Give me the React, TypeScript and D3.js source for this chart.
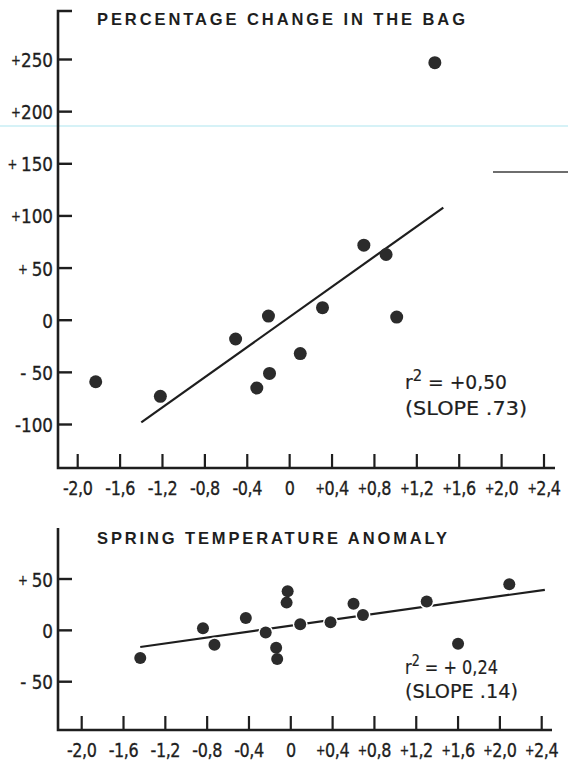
import React from "react";
import * as d3 from "d3";

// ---------- DATA ----------
const xTickValues = [-2.0, -1.6, -1.2, -0.8, -0.4, 0, 0.4, 0.8, 1.2, 1.6, 2.0, 2.4];
const xTickSigns = ["-", "-", "-", "-", "-", "", "+", "+", "+", "+", "+", "+"];
const xTickNums = ["2,0", "1,6", "1,2", "0,8", "0,4", "0", "0,4", "0,8", "1,2", "1,6", "2,0", "2,4"];

const topYTickValues = [250, 200, 150, 100, 50, 0, -50, -100];
const topYTickSigns = ["+", "+", "+ ", "+", "+ ", "", "- ", "-"];
const topYTickNums = ["250", "200", "150", "100", "50", "0", "50", "100"];

const bottomYTickValues = [50, 0, -50];
const bottomYTickSigns = ["+ ", "", "- "];
const bottomYTickNums = ["50", "0", "50"];

// Top panel: percentage change in the bag vs anomaly
const topX = [-1.83, -1.22, -0.51, -0.2, -0.31, -0.19, 0.1, 0.31, 0.7, 0.91, 1.01, 1.37];
const topY = [-59, -73, -18, 4, -65, -51, -32, 12, 72, 63, 3, 247];
const topFitRange = [-1.4, 1.45];
const topSlope = 72.3;
const topIntercept = 3.2;

// Bottom panel: spring temperature anomaly
const bottomX = [-1.44, -0.84, -0.73, -0.43, -0.24, -0.14, -0.13, -0.03, -0.04, 0.09, 0.38, 0.6, 0.69, 1.3, 1.6, 2.09];
const bottomY = [-27, 2, -14, 12, -2, -17, -28, 38, 27, 6, 8, 26, 15, 28, -13, 45];
const bottomFitRange = [-1.44, 2.43];
const bottomSlope = 14.4;
const bottomIntercept = 4.5;

const topTitle = "PERCENTAGE CHANGE IN THE BAG";
const bottomTitle = "SPRING TEMPERATURE ANOMALY";
const topStats = ["+0,50", "(SLOPE .73)"];
const bottomStats = ["+ 0,24", "(SLOPE .14)"];

// ---------- STYLE ----------
const INK = "#1e1e1e";
const DOT = "#2b2b2b";
const FONT = "'DejaVu Sans', 'Liberation Sans', sans-serif";
const TITLE_FONT = "'Liberation Sans', Arial, sans-serif";

type PanelProps = {
  xs: number[];
  ys: number[];
  xRange: [number, number];
  yDomain: [number, number];
  yRange: [number, number];
  axisX: number;
  axisY: number;
  axisTop: number;
  axisRight: number;
  cap: boolean;
  yTickValues: number[];
  yTickSigns: string[];
  yTickNums: string[];
  fitRange: number[];
  slope: number;
  intercept: number;
  halo: boolean;
  r: number;
  title: string;
  titleY: number;
  titleLen: number;
  stats: string[];
  statsX: number;
  statsY: [number, number];
  statsLen: [number, number];
};

function SignedLabel({ sign, num, size }: { sign: string; num: string; size: number }) {
  const isPlus = sign.startsWith("+");
  return (
    <>
      <tspan fontSize={isPlus ? size * 0.7 : size} dy={isPlus ? -2 : 0}>
        {sign}
      </tspan>
      <tspan dy={isPlus ? 2 : 0}>{num}</tspan>
    </>
  );
}

function Panel(p: PanelProps) {
  const x = d3.scaleLinear().domain([-2.0, 2.4]).range(p.xRange);
  const y = d3.scaleLinear().domain(p.yDomain).range(p.yRange);
  const fitLine = d3
    .line<number>()
    .x((d) => x(d))
    .y((d) => y(p.intercept + p.slope * d));
  const tick = 14;
  const xs = 20;
  const ys = 20;
  return (
    <g>
      {/* title */}
      <text
        x={97}
        y={p.titleY}
        fontFamily={TITLE_FONT}
        fontWeight="bold"
        fontSize={16.5}
        fill={INK}
        textLength={p.titleLen}
        lengthAdjust="spacing"
      >
        {p.title}
      </text>
      {/* regression line */}
      <path d={fitLine(p.fitRange) || ""} stroke={INK} strokeWidth={2.2} fill="none" />
      {/* points */}
      {p.xs.map((d, i) => (
        <circle
          key={i}
          cx={x(d)}
          cy={y(p.ys[i])}
          r={p.r}
          fill={DOT}
          stroke={p.halo ? "#fff" : "none"}
          strokeWidth={p.halo ? 3 : 0}
        />
      ))}
      {p.halo &&
        p.xs.map((d, i) => (
          <circle key={"c" + i} cx={x(d)} cy={y(p.ys[i])} r={p.r} fill={DOT} />
        ))}
      {/* axes */}
      <path
        d={
          p.cap
            ? `M${p.axisX + 14},${p.axisTop} H${p.axisX} V${p.axisY} H${p.axisRight}`
            : `M${p.axisX},${p.axisTop} V${p.axisY} H${p.axisRight}`
        }
        stroke={INK}
        strokeWidth={2.6}
        fill="none"
        strokeLinejoin="miter"
      />
      {xTickValues.map((v, i) => (
        <g key={"xt" + i}>
          <line x1={x(v)} x2={x(v)} y1={p.axisY} y2={p.axisY - tick} stroke={INK} strokeWidth={2.2} />
          <g transform={`translate(${x(v)},${p.axisY + 27}) scale(0.8,1)`}>
            <text
              x={0}
              y={0}
              textAnchor="middle"
              fontFamily={FONT}
              fontSize={xs}
              letterSpacing={-0.5}
              fill={INK}
              stroke={INK}
              strokeWidth={0.35}
            >
              <SignedLabel sign={xTickSigns[i]} num={xTickNums[i]} size={xs} />
            </text>
          </g>
        </g>
      ))}
      {p.yTickValues.map((v, i) => (
        <g key={"yt" + i}>
          <line x1={p.axisX} x2={p.axisX + tick} y1={y(v)} y2={y(v)} stroke={INK} strokeWidth={2.4} />
          <g transform={`translate(${p.axisX - 5},${y(v) + 7.5}) scale(0.84,1)`}>
            <text
              x={0}
              y={0}
              textAnchor="end"
              fontFamily={FONT}
              fontSize={ys}
              fill={INK}
              stroke={INK}
              strokeWidth={0.35}
            >
              <SignedLabel sign={p.yTickSigns[i]} num={p.yTickNums[i]} size={ys} />
            </text>
          </g>
        </g>
      ))}
      {/* statistics */}
      <text
        x={p.statsX}
        y={p.statsY[0]}
        fontFamily={FONT}
        fontSize={19}
        fill={INK}
        stroke={INK}
        strokeWidth={0.2}
        textLength={p.statsLen[0]}
        lengthAdjust="spacingAndGlyphs"
      >
        r<tspan dy={-8} fontSize={15}>2</tspan>
        <tspan dy={8}>{" = " + p.stats[0]}</tspan>
      </text>
      <text
        x={p.statsX}
        y={p.statsY[1]}
        fontFamily={FONT}
        fontSize={19}
        fill={INK}
        stroke={INK}
        strokeWidth={0.2}
        textLength={p.statsLen[1]}
        lengthAdjust="spacingAndGlyphs"
      >
        {p.stats[1]}
      </text>
    </g>
  );
}

export default function App() {
  return (
    <svg
      width={568}
      height={763}
      viewBox="0 0 568 763"
      style={{ position: "absolute", left: 0, top: 0, background: "#fff" }}
    >
      <rect width={568} height={763} fill="#fff" />
      {/* scan artifacts */}
      <line x1={0} x2={568} y1={126} y2={126} stroke="#c8eef4" strokeWidth={1.5} />
      <line x1={493} x2={568} y1={172} y2={172} stroke="#6e6e6e" strokeWidth={2} />
      <Panel
        xs={topX}
        ys={topY}
        xRange={[77.7, 544]}
        yDomain={[-100, 250]}
        yRange={[424.5, 59.5]}
        axisX={58}
        axisY={468}
        axisTop={11}
        axisRight={555}
        cap={true}
        yTickValues={topYTickValues}
        yTickSigns={topYTickSigns}
        yTickNums={topYTickNums}
        fitRange={topFitRange}
        slope={topSlope}
        intercept={topIntercept}
        halo={false}
        r={6.5}
        title={topTitle}
        titleY={25}
        titleLen={368}
        stats={topStats}
        statsX={405}
        statsY={[389, 415]}
        statsLen={[102, 122]}
      />
      <Panel
        xs={bottomX}
        ys={bottomY}
        xRange={[81.7, 541.7]}
        yDomain={[-50, 50]}
        yRange={[681.7, 579]}
        axisX={58}
        axisY={730}
        axisTop={528}
        axisRight={552}
        cap={false}
        yTickValues={bottomYTickValues}
        yTickSigns={bottomYTickSigns}
        yTickNums={bottomYTickNums}
        fitRange={bottomFitRange}
        slope={bottomSlope}
        intercept={bottomIntercept}
        halo={true}
        r={6}
        title={bottomTitle}
        titleY={543.5}
        titleLen={350}
        stats={bottomStats}
        statsX={405}
        statsY={[674, 697.5]}
        statsLen={[93, 113]}
      />
    </svg>
  );
}
